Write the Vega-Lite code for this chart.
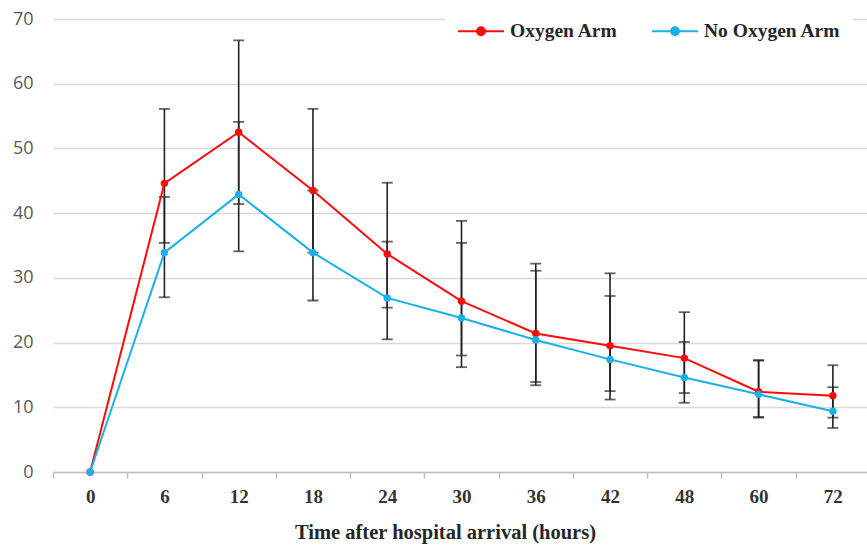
{
  "$schema": "https://vega.github.io/schema/vega-lite/v6.json",
  "autosize": "none",
  "width": 817,
  "height": 453,
  "padding": {"left": 53, "top": 19, "right": 0, "bottom": 74},
  "background": "white",
  "config": {"view": {"stroke": null}},
  "data": {"values": [
    {"t": "0", "arm": "Oxygen Arm", "mean": 0, "lo": null, "hi": null},
    {"t": "6", "arm": "Oxygen Arm", "mean": 44.6, "lo": 35.4, "hi": 56.1},
    {"t": "12", "arm": "Oxygen Arm", "mean": 52.5, "lo": 41.4, "hi": 66.7},
    {"t": "18", "arm": "Oxygen Arm", "mean": 43.5, "lo": 33.9, "hi": 56.1},
    {"t": "24", "arm": "Oxygen Arm", "mean": 33.7, "lo": 25.4, "hi": 44.7},
    {"t": "30", "arm": "Oxygen Arm", "mean": 26.4, "lo": 18.0, "hi": 38.8},
    {"t": "36", "arm": "Oxygen Arm", "mean": 21.4, "lo": 13.9, "hi": 32.2},
    {"t": "42", "arm": "Oxygen Arm", "mean": 19.5, "lo": 12.5, "hi": 30.7},
    {"t": "48", "arm": "Oxygen Arm", "mean": 17.6, "lo": 12.2, "hi": 24.7},
    {"t": "60", "arm": "Oxygen Arm", "mean": 12.4, "lo": 8.5, "hi": 17.3},
    {"t": "72", "arm": "Oxygen Arm", "mean": 11.8, "lo": 8.4, "hi": 16.5},
    {"t": "0", "arm": "No Oxygen Arm", "mean": 0, "lo": null, "hi": null},
    {"t": "6", "arm": "No Oxygen Arm", "mean": 33.9, "lo": 27.0, "hi": 42.5},
    {"t": "12", "arm": "No Oxygen Arm", "mean": 42.9, "lo": 34.1, "hi": 54.1},
    {"t": "18", "arm": "No Oxygen Arm", "mean": 33.9, "lo": 26.5, "hi": 43.5},
    {"t": "24", "arm": "No Oxygen Arm", "mean": 26.9, "lo": 20.5, "hi": 35.6},
    {"t": "30", "arm": "No Oxygen Arm", "mean": 23.8, "lo": 16.2, "hi": 35.4},
    {"t": "36", "arm": "No Oxygen Arm", "mean": 20.4, "lo": 13.4, "hi": 31.1},
    {"t": "42", "arm": "No Oxygen Arm", "mean": 17.4, "lo": 11.2, "hi": 27.2},
    {"t": "48", "arm": "No Oxygen Arm", "mean": 14.6, "lo": 10.7, "hi": 20.1},
    {"t": "60", "arm": "No Oxygen Arm", "mean": 12.0, "lo": 8.4, "hi": 17.2},
    {"t": "72", "arm": "No Oxygen Arm", "mean": 9.4, "lo": 6.8, "hi": 13.1}
  ]},
  "encoding": {
    "x": {
      "field": "t", "type": "ordinal",
      "sort": ["0","6","12","18","24","30","36","42","48","60","72"],
      "scale": {"type": "band", "paddingInner": 0, "paddingOuter": 0},
      "axis": {
        "title": "Time after hospital arrival (hours)",
        "titleFont": "Liberation Serif", "titleFontWeight": "bold", "titleFontSize": 20.5, "titleColor": "#262626",
        "titlePadding": 16, "titleX": 392,
        "labelFont": "Liberation Serif", "labelFontWeight": "bold", "labelFontSize": 19, "labelColor": "#333333",
        "labelAngle": 0, "labelPadding": 9,
        "tickBand": "extent", "tickSize": 6, "tickColor": "#bfbfbf", "tickWidth": 1.5,
        "domainColor": "#bfbfbf", "domainWidth": 1.5, "grid": false
      }
    }
  },
  "layer": [
    {
      "mark": {"type": "rule", "color": "#222222", "strokeWidth": 1.6},
      "encoding": {
        "y": {"field": "lo", "type": "quantitative"},
        "y2": {"field": "hi"}
      }
    },
    {
      "transform": [
        {"fold": ["lo", "hi"], "as": ["k", "v"]},
        {"filter": "datum.v != null"}
      ],
      "mark": {"type": "tick", "color": "#222222", "thickness": 1.8, "size": 11, "orient": "horizontal"},
      "encoding": {
        "y": {"field": "v", "type": "quantitative"}
      }
    },
    {
      "mark": {"type": "line", "strokeWidth": 2},
      "encoding": {
        "y": {
          "field": "mean", "type": "quantitative",
          "scale": {"domain": [0, 70]},
          "axis": {
            "title": null, "values": [0,10,20,30,40,50,60,70],
            "labelFont": "Open Sans", "labelFontSize": 18, "labelColor": "#595959",
            "labelPadding": 20, "ticks": false, "domain": false,
            "gridColor": "#d9d9d9", "gridWidth": 1.5
          }
        },
        "color": {
          "field": "arm", "type": "nominal",
          "sort": ["Oxygen Arm", "No Oxygen Arm"],
          "scale": {"domain": ["Oxygen Arm", "No Oxygen Arm"], "range": ["#ff0a0a", "#1ab0ea"]},
          "legend": {
            "title": null, "orient": "none", "direction": "horizontal",
            "legendX": 392, "legendY": -24, "padding": 12,
            "fillColor": "white",
            "symbolType": "M-1,0L1,0M-0.17,0a0.17,0.17 0 1,0 0.34,0a0.17,0.17 0 1,0 -0.34,0",
            "symbolSize": 2116, "symbolStrokeWidth": 2,
            "labelFont": "Liberation Serif", "labelFontWeight": "bold", "labelFontSize": 19.5, "labelColor": "#262626",
            "labelOffset": 5, "columnPadding": 30,
            "encode": {"symbols": {"update": {"fill": {"scale": "color", "field": "value"}}}}
          }
        }
      }
    },
    {
      "mark": {"type": "point", "filled": true, "opacity": 1, "size": 55},
      "encoding": {
        "y": {"field": "mean", "type": "quantitative"},
        "color": {"field": "arm", "type": "nominal", "legend": null}
      }
    }
  ]
}
